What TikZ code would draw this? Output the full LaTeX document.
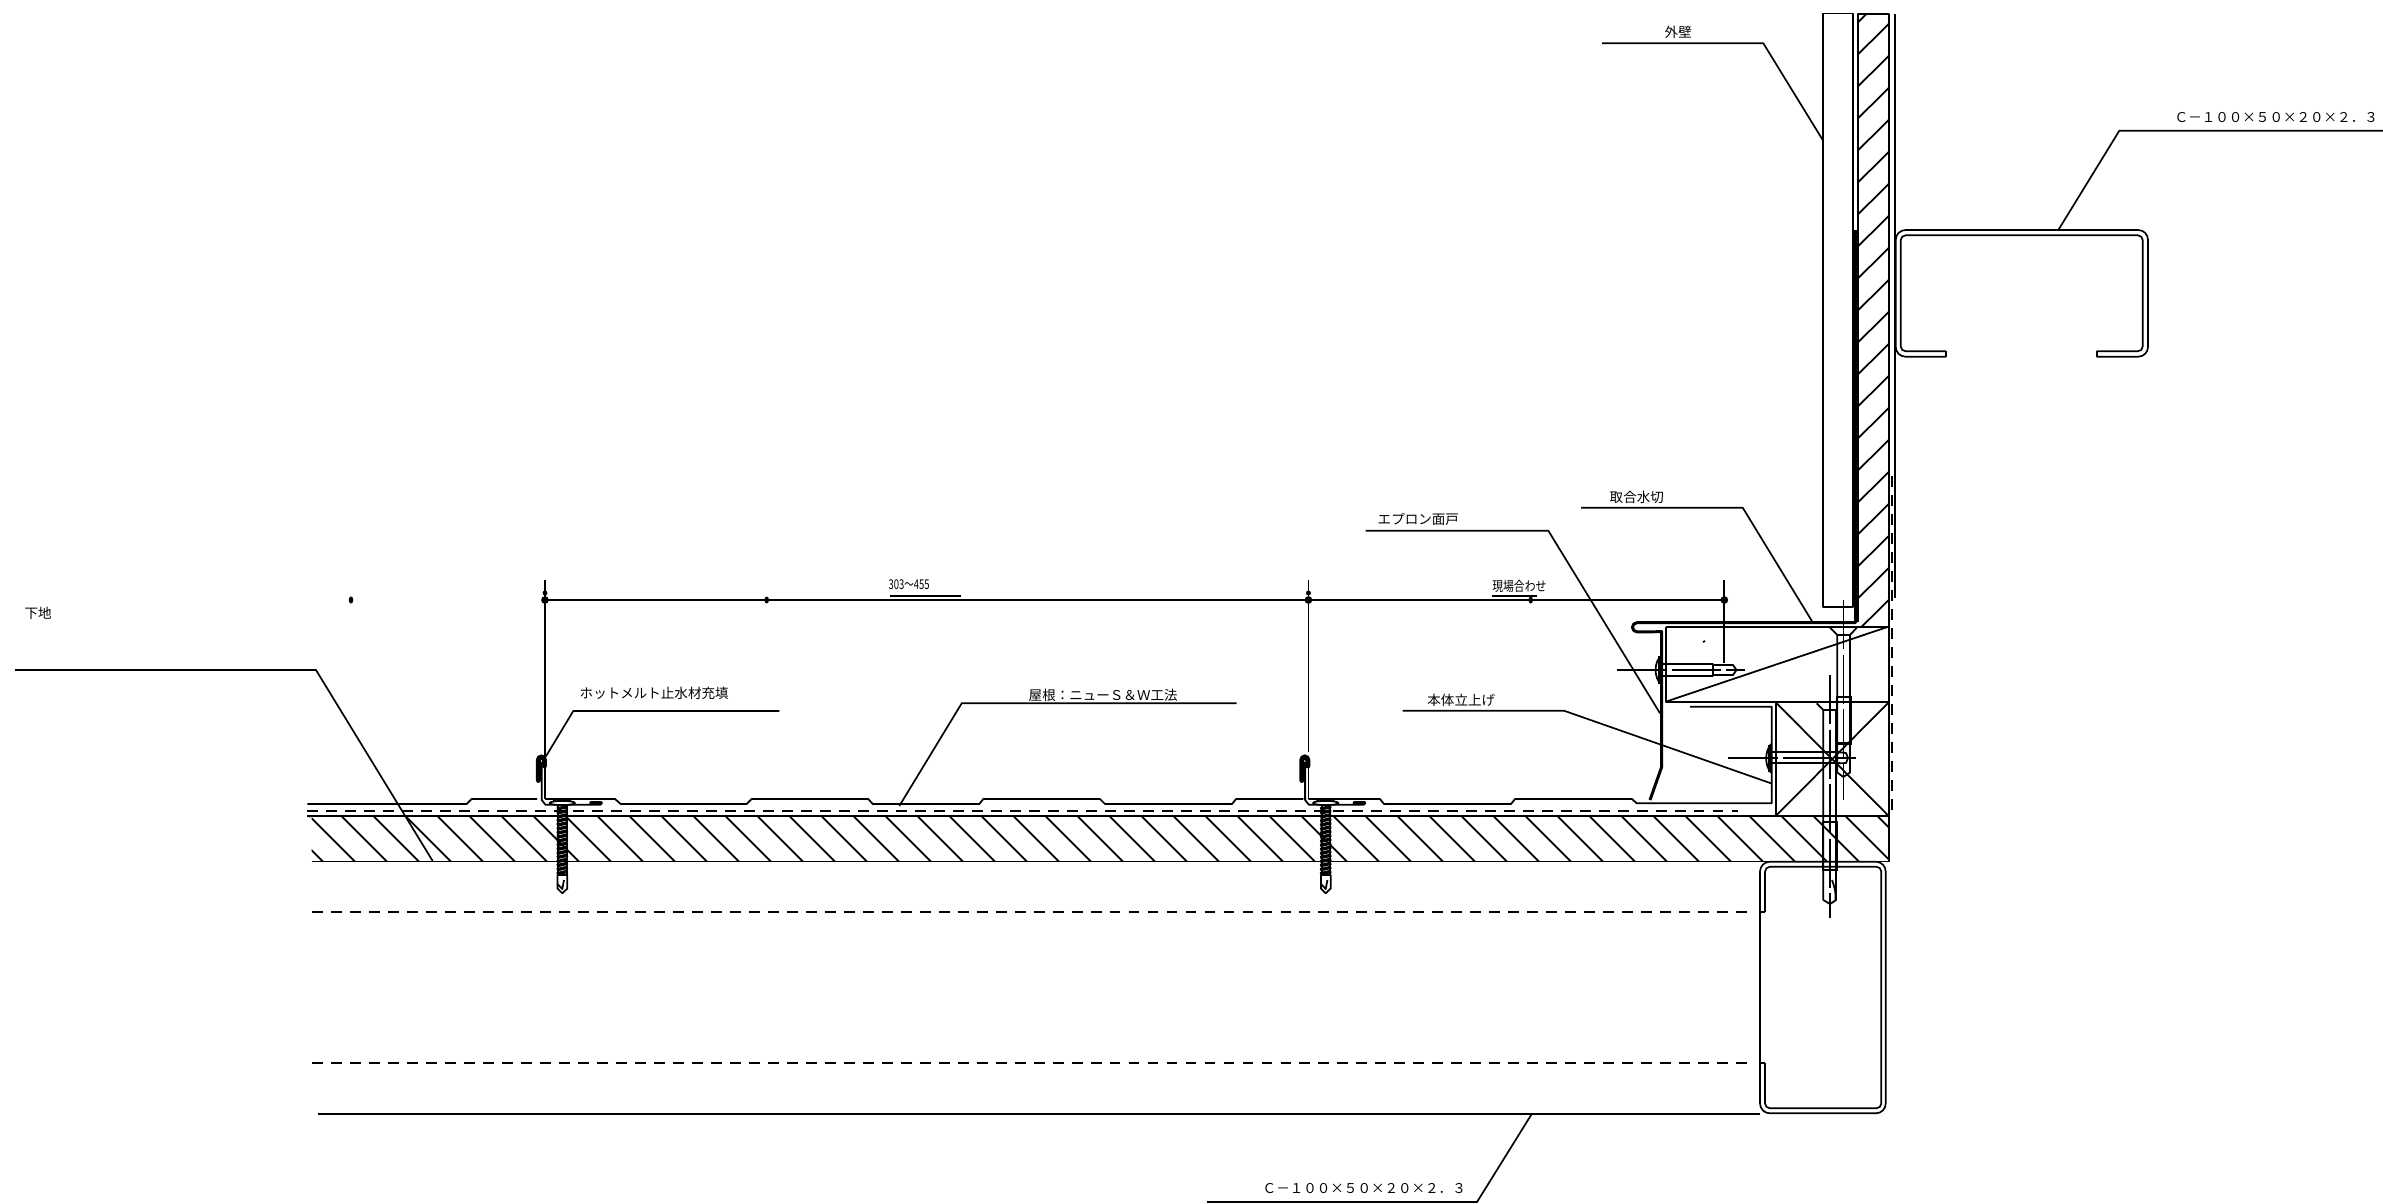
\documentclass[tikz,border=0pt]{standalone}
\usepackage{fontspec}
\setmainfont{Noto Sans CJK JP}
\usetikzlibrary{calc, positioning}
\tikzset{
    part/.style={line width=0.5pt, line join=round},
    heavy/.style={line width=0.85pt, line join=round},
    steel/.style={line width=0.48pt, line join=round},
    leader/.style={line width=0.48pt},
    hidden/.style={line width=0.45pt, dash pattern=on 3.1pt off 2.3pt},
    axisline/.style={line width=0.45pt, dash pattern=on 14pt off 1.5pt},
    note/.style={inner sep=0pt, anchor=west, font=\fontsize{3.85}{4.5}\selectfont},
}
\begin{document}
\begin{tikzpicture}[x=0.01cm, y=-0.01cm]
    \useasboundingbox (0,0) rectangle (2383,1203);

    % Roof deck: two layers and hatching
    \draw[part] (307.3,816) -- (1888.7,816);
    \draw[part] (311.7,861.5) -- (1888.7,861.5);
    \draw[hidden] (307.3,811) -- (1738,811);
    \begin{scope}
        \clip (311.7,816) rectangle (1888.7,861.5);
        \foreach \hx in {0,...,50}
            \draw[part] ({277.3+32*\hx},816) -- ++(45.5,45.5);
    \end{scope}
    \draw[part] (309.3,816) -- ++(1,1);

    % Outer wall panel and hatched wall
    \draw[part] (1822.7,607) -- (1822.7,13.5) -- (1853.3,13.5) -- (1853.3,607) -- cycle;
    \draw[part] (1858.3,622) -- (1858.3,14) -- (1888.7,14) -- (1888.7,861.5);
    \draw[part] (1895.3,14) -- (1895.3,598);
    \draw[hidden] (1891.7,476) -- (1891.7,817);
    \begin{scope}
        \clip (1858.3,14) rectangle (1888.7,627);
        \foreach \hy in {-1,...,18}
            \draw[part] (1888.7,{24+32*\hy}) -- ++(-30.4,30);
    \end{scope}

    % Flashing
    \draw[heavy] (1855.5,230) -- (1855.5,622.7) -- (1637,622.7)
        arc[start angle=90, end angle=270, radius=1.3pt] -- (1661.7,631.7)
        -- (1661.7,766.7) -- (1650,800);
    \draw[part] (1665.7,626.7) -- (1888.7,626.7);
    \draw[part] (1665.7,626.7) -- (1665.7,702.3) -- (1888.7,702.3);
    \draw[part] (1665.7,701.7) -- (1888.3,626.7);
    \draw[part] (1703,642) -- (1705,641);

    % Wood block with cross
    \draw[part] (1775.7,702.3) rectangle (1888.7,816);
    \draw[part] (1775.7,702.3) -- (1888.7,816);
    \draw[part] (1775.7,816) -- (1888.7,702.3);

    % Roof sheet
    \draw[part] (307.3,804) -- (466.7,804) -- (471.7,799) -- (537,799);
    \draw[part] (545,799) -- (615,799) -- (620.7,804) -- (746.7,804) -- (751.7,799) -- (868.3,799)
        -- (872.7,804) -- (979.3,804) -- (983.3,799) -- (1100,799) -- (1105,804) -- (1232,804)
        -- (1236,799) -- (1303.3,799);
    \draw[part] (1308.4,799) -- (1380,799) -- (1384,804) -- (1511,804) -- (1515,799) -- (1632,799)
        -- (1636.7,803.3) -- (1771.7,803.3) -- (1771.7,706.7) -- (1690,706.7);

    % Joints and fixing screws of the roof sheet
    \foreach \jx in {0,763.4} {
        \begin{scope}[xshift=\jx*0.01cm]
            \draw[part] (541.7,762) -- (541.7,800) -- (545.5,804.8) -- (601,804.8);
            \draw[part] (545,760) -- (545,799);
            \draw[line width=1pt, line cap=round] (591,803) -- (601,803);
            \draw[line width=1.4pt, line cap=round] (538.4,780.5) -- (538.4,760)
                arc[start angle=180, end angle=0, radius=0.85pt] -- (544.4,766);
            % screw
            \draw[part, fill=white] (562.3,803) ellipse [x radius=3.6pt, y radius=0.6pt];
            \draw[part] (553,800.5) .. controls (558,798.5) and (566,798.5) .. (571,800.5);
            \draw[part] (558.3,806) -- (558.3,875);
            \draw[part] (566.7,806) -- (566.7,875);
            \foreach \ty in {0,...,16}
                \draw[line width=0.95pt] (556.8,{809+4.05*\ty}) -- (567.8,{806.5+4.05*\ty});
            \draw[part] (557.5,875) -- (557.5,888.5) -- (562.3,893.3) -- (567.3,888.5) -- (567.3,875) -- cycle;
            \draw[part] (557.5,884) -- (562.3,889) -- (564,880);
        \end{scope}
    }

    % Fasteners in the upper corner
    \draw[part] (1830,627.7) -- (1837.3,635) -- (1850,635) -- (1856.7,627.7);
    \draw[part] (1837.3,635) -- (1837.3,772.5) -- (1843.3,777) -- (1850,772.5) -- (1850,635);
    \draw[line width=0.65pt] (1836.7,696.7) rectangle (1850.7,743.5);
    \draw[axisline] (1843.3,600) -- (1843.3,800);

    \draw[part] (1816.7,703.3) -- (1823.3,710) -- (1836,710);
    \draw[part] (1823.3,710) -- (1823.3,900) -- (1830,904) -- (1836,900) -- (1836,710);
    \draw[line width=0.65pt] (1822.7,822.3) rectangle (1837,870);
    \draw[axisline] (1830,675) -- (1830,918.3);
    \draw[part] (1832,880) .. controls (1835,888) and (1836,894) .. (1835.5,900);

    \draw[part] (1661.7,655) .. controls (1653.5,662) and (1653.5,678) .. (1661.7,685);
    \draw[line width=1pt] (1660,656) -- (1660,684);
    \draw[part] (1661.7,664) -- (1712.7,664) -- (1712.7,675.7) -- (1661.7,675.7);
    \draw[part] (1712.7,665) -- (1733,665) -- (1736.5,670) -- (1733,675) -- (1712.7,675);
    \draw[axisline] (1617.3,670) -- (1745,670);

    \draw[part] (1771,744) .. controls (1764.5,752) and (1764.5,765) .. (1771,772.7);
    \draw[line width=1pt] (1770,745) -- (1770,772);
    \draw[line width=0.65pt] (1771.7,752.3) -- (1840,752.3);
    \draw[line width=0.65pt] (1771.7,763.3) -- (1840,763.3);
    \draw[part] (1840,752.3) -- (1846,753) -- (1848,758) -- (1846,763) -- (1840,763.3);
    \draw[axisline] (1728.3,757.7) -- (1855.7,757.7);

    % Lower C section
    \draw[steel, rounded corners=2.8pt] (1760,913) -- (1760,861.7) -- (1885.7,861.7) -- (1885.7,1113.3) -- (1760,1113.3) -- (1760,1062);
    \draw[steel, rounded corners=1.4pt] (1765,912) -- (1765,866.7) -- (1881.3,866.7) -- (1881.3,1108.3) -- (1765,1108.3) -- (1765,1063);
    \draw[steel] (1760,912) -- (1765,912);
    \draw[steel] (1760,1062.7) -- (1765,1062.7);
    \draw[part] (1760,912) -- (1760,1062.7);
    \draw[part] (318,1113.6) -- (1760,1113.6);
    \draw[hidden] (312,911.7) -- (1752,911.7);
    \draw[hidden] (312,1062.7) -- (1752,1062.7);

    % Upper C section
    \draw[steel, rounded corners=2.8pt] (1946,356.7) -- (1895.7,356.7) -- (1895.7,230) -- (2148,230) -- (2148,356.7) -- (2096.7,356.7);
    \draw[steel, rounded corners=1.4pt] (1946,351.3) -- (1900.7,351.3) -- (1900.7,235.3) -- (2142.7,235.3) -- (2142.7,351.3) -- (2096.7,351.3);
    \draw[steel] (1946,351.3) -- (1946,356.7);
    \draw[steel] (2096.7,351.3) -- (2096.7,356.7);

    % Dimension line
    \draw[leader] (545,580) -- (545,756);
    \draw[leader] (1308.4,580) -- (1308.4,752);
    \draw[leader] (1724.3,580) -- (1724.3,663);
    \draw[leader] (545,599.7) -- (1724.3,599.7);
    \foreach \dx in {545,1308.4,1724.3}
        \fill (\dx,600) circle (1.1pt);
    \fill (545,593) circle (0.7pt);
    \fill (1308.4,593) circle (0.7pt);
    \foreach \dx in {351,766.7,1530.7}
        \fill (\dx,600) ellipse [x radius=0.65pt, y radius=1pt];
    \node[note, xscale=0.7] (pitch) at (888,585) {303～455};
    \draw[leader] (890,595.7) -- (960.7,595.7);
    \node[note, xscale=0.8] (siteadjust) at (1491.7,586) {現場合わせ};
    \draw[leader] (1491.7,596) -- (1536.7,596);

    % Labels and leaders
    \node[note] (wall) at (1664,32) {外壁};
    \draw[leader] (1602,43.3) -- (1763.3,43.3) -- (1822.7,140);

    \node[note] (cupper) at (2174,118) {Ｃ－１００×５０×２０×２．３};
    \draw[leader] (2383,130.7) -- (2119.3,130.7) -- (2058.3,230);

    \node[note] (flash) at (1609,497) {取合水切};
    \draw[leader] (1581,507.7) -- (1742.7,507.7) -- (1812.3,621.7);

    \node[note] (apron) at (1377,519) {エプロン面戸};
    \draw[leader] (1365.7,530.7) -- (1548.3,530.7) -- (1660,713.3);

    \node[note] (riser) at (1426.7,700) {本体立上げ};
    \draw[leader] (1402.7,710.7) -- (1564,710.7) -- (1771,783.3);

    \node[note] (roof) at (1028,695) {屋根：ニューＳ＆Ｗ工法};
    \draw[leader] (1236.7,703.3) -- (961.7,703.3) -- (899.3,806);

    \node[note] (hotmelt) at (579,693.5) {ホットメルト止水材充填};
    \draw[leader] (779.3,711) -- (573.3,711) -- (545.7,756.7);

    \node[note] (base) at (24,613) {下地};
    \draw[leader] (15,670) -- (316,670) -- (432.7,861);

    \node[note] (clower) at (1262,1189) {Ｃ－１００×５０×２０×２．３};
    \draw[leader] (1207,1202) -- (1477,1202) -- (1531.7,1114);
\end{tikzpicture}
\end{document}
